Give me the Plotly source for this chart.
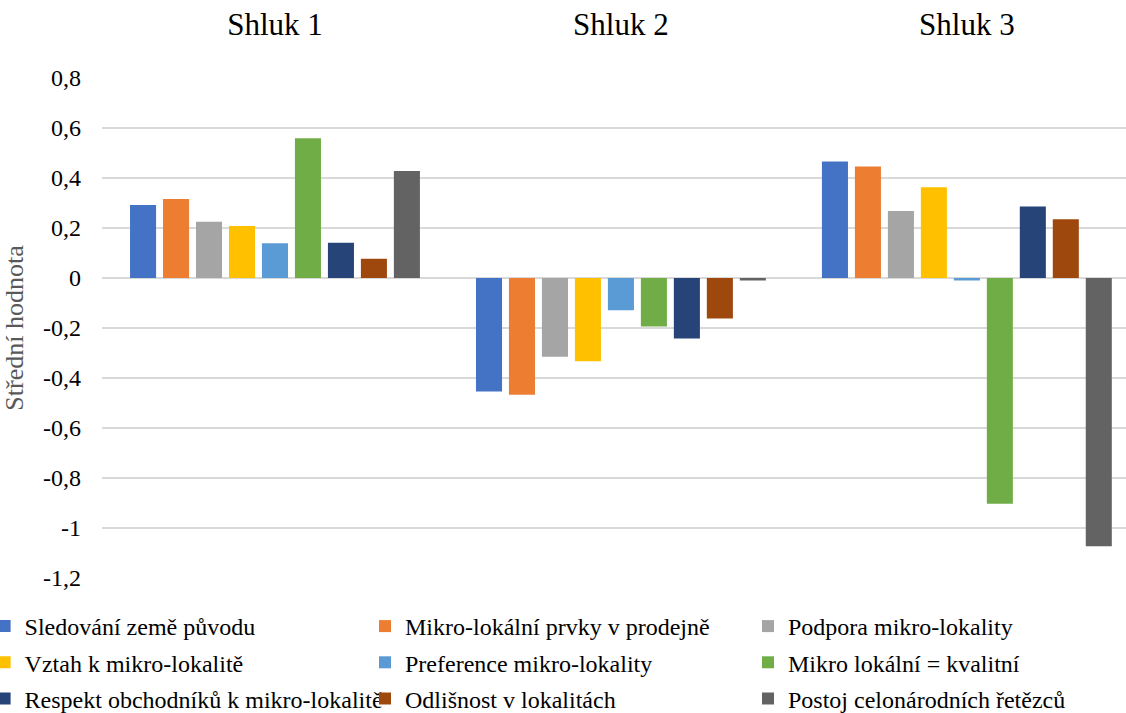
import plotly.graph_objects as go

clusters = ["Shluk 1", "Shluk 2", "Shluk 3"]

series_names = [
    "Sledování země původu",
    "Mikro-lokální prvky v prodejně",
    "Podpora mikro-lokality",
    "Vztah k mikro-lokalitě",
    "Preference mikro-lokality",
    "Mikro lokální = kvalitní",
    "Respekt obchodníků k mikro-lokalitě",
    "Odlišnost v lokalitách",
    "Postoj celonárodních řetězců",
]

sledovani = [0.292, -0.454, 0.466]
prvky = [0.316, -0.467, 0.446]
podpora = [0.225, -0.315, 0.268]
vztah = [0.208, -0.333, 0.363]
preference = [0.139, -0.129, -0.010]
kvalitni = [0.559, -0.194, -0.903]
respekt = [0.141, -0.242, 0.286]
odlisnost = [0.077, -0.162, 0.235]
postoj = [0.428, -0.010, -1.073]

series_values = [sledovani, prvky, podpora, vztah, preference,
                 kvalitni, respekt, odlisnost, postoj]

colors = ["#4472C4", "#ED7D31", "#A5A5A5", "#FFC000", "#5B9BD5",
          "#70AD47", "#264478", "#9E480E", "#636363"]

y_tickvals = [0.8, 0.6, 0.4, 0.2, 0, -0.2, -0.4, -0.6, -0.8, -1, -1.2]
y_ticktext = ["0,8", "0,6", "0,4", "0,2", "0", "-0,2", "-0,4", "-0,6",
              "-0,8", "-1", "-1,2"]

serif = "Liberation Serif, DejaVu Serif, serif"

# legend entries run row by row across three columns
legend_ids = ["legend", "legend2", "legend3"]

fig = go.Figure()
for i, (name, vals, col) in enumerate(zip(series_names, series_values, colors)):
    fig.add_trace(go.Bar(
        x=clusters, y=vals, name=name,
        marker=dict(color=col, line=dict(width=0)),
        legend=legend_ids[i % 3], legendgroup=name,
    ))

legend_style = dict(
    orientation="v", yanchor="top", xanchor="left", y=-0.052,
    font=dict(family=serif, size=24, color="black"),
    itemwidth=30, tracegroupgap=2, bgcolor="rgba(0,0,0,0)",
)

fig.update_layout(
    width=1126, height=713,
    paper_bgcolor="white", plot_bgcolor="white",
    margin=dict(l=102, r=0, t=78, b=135, autoexpand=False),
    barmode="group", bargap=0.142, bargroupgap=0.21,
    font=dict(family=serif, size=24, color="black"),
    xaxis=dict(
        side="top", range=[-0.5, 2.46], showgrid=False, showline=False,
        zeroline=False, ticks="", automargin=False,
        tickfont=dict(family=serif, size=31),
        ticklabelstandoff=36,
    ),
    yaxis=dict(
        range=[-1.2, 0.8], tickvals=y_tickvals, ticktext=y_ticktext,
        showgrid=True, gridcolor="#D9D9D9", gridwidth=1.5,
        zeroline=True, zerolinecolor="#D9D9D9", zerolinewidth=1.5,
        showline=False, ticks="", automargin=False,
        tickfont=dict(family=serif, size=24),
        ticklabelstandoff=20,
        title=dict(text="Střední hodnota",
                   font=dict(family=serif, size=26, color="#595959"),
                   standoff=11),
    ),
    legend=dict(legend_style, x=-0.1, indentation=-15),
    legend2=dict(legend_style, x=(365 - 102) / 1024),
    legend3=dict(legend_style, x=(748 - 102) / 1024),
    showlegend=True,
)

fig.write_html("out.html")
